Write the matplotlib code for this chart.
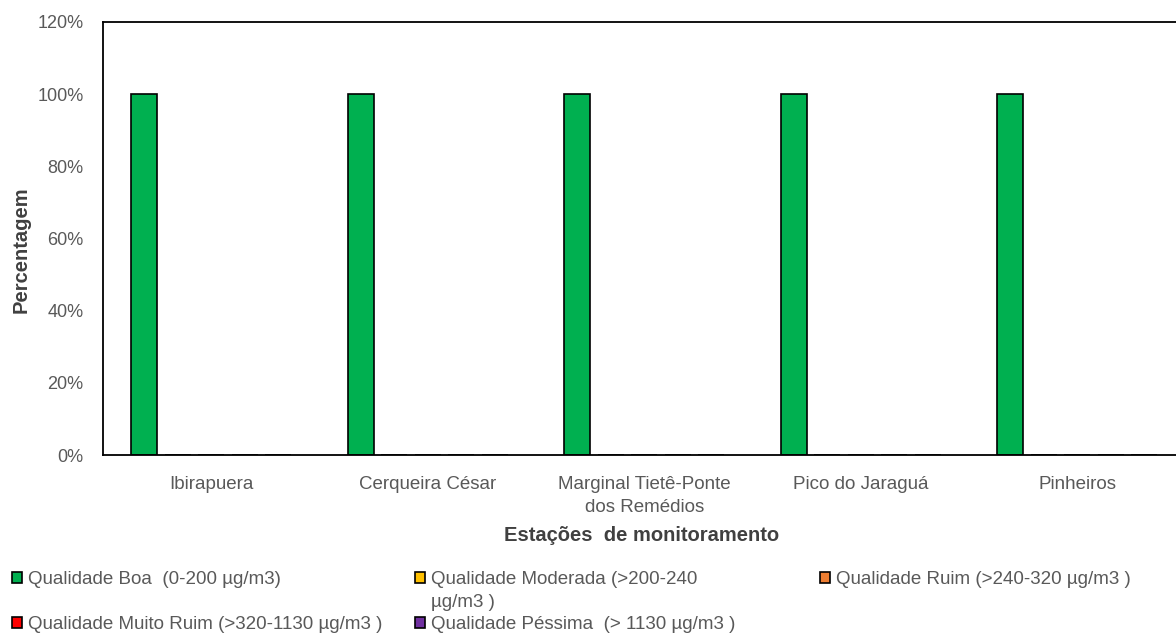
import numpy as np
import matplotlib
matplotlib.use("Agg")
import matplotlib.pyplot as plt
from matplotlib.ticker import PercentFormatter

plt.rcParams['font.family'] = ['Liberation Sans', 'DejaVu Sans']

# dados
estacoes = ["Ibirapuera", "Cerqueira César", "Marginal Tietê-Ponte\ndos Remédios",
            "Pico do Jaraguá", "Pinheiros"]

series = [
    "Qualidade Boa  (0-200 µg/m3)",
    "Qualidade Moderada (>200-240",
    "Qualidade Ruim (>240-320 µg/m3 )",
    "Qualidade Muito Ruim (>320-1130 µg/m3 )",
    "Qualidade Péssima  (> 1130 µg/m3 )",
]
boa = [1.0, 1.0, 1.0, 1.0, 1.0]
moderada = [0, 0, 0, 0, 0]
ruim = [0, 0, 0, 0, 0]
muito_ruim = [0, 0, 0, 0, 0]
pessima = [0, 0, 0, 0, 0]

cores = ["#00B050", "#FFC000", "#ED7D31", "#FF0000", "#7030A0"]

valores = [boa, moderada, ruim, muito_ruim, pessima]

W, H = 1176, 635
fig = plt.figure(figsize=(W / 100, H / 100), dpi=100)

# eixo (a direita passa um pouco da figura, como no original)
ax = fig.add_axes([103 / W, 1 - 455 / H, 1082.5 / W, 433 / H])

x = np.arange(len(estacoes))
passo = 0.155
largura = 0.12

barras = []
for i, (v, c) in enumerate(zip(valores, cores)):
    b = ax.bar(x + (i - 2) * passo, v, largura, color=c,
               edgecolor="black", linewidth=1.2, label=series[i])
    barras.append(b)

ax.set_xlim(-0.5, len(estacoes) - 0.5)
ax.set_ylim(0, 1.2)
ax.set_yticks(np.arange(0, 1.21, 0.2))
ax.yaxis.set_major_formatter(PercentFormatter(xmax=1, decimals=0))
ax.set_xticks(x)
ax.set_xticklabels(estacoes, linespacing=1.45)

ax.tick_params(axis="both", length=0, labelcolor="#595959")
ax.tick_params(axis="y", pad=14, labelsize=13)
ax.tick_params(axis="x", pad=15, labelsize=13.5)

for s in ax.spines.values():
    s.set_linewidth(1.3)
    s.set_color("black")

ax.set_ylabel("Percentagem", fontsize=14.5, fontweight="bold", color="#404040")
ax.set_xlabel("Estações  de monitoramento", fontsize=14.5, fontweight="bold", color="#404040")
ax.yaxis.set_label_coords(-0.0665, 0.475)
ax.xaxis.set_label_coords(0.4975, -0.164)

#
# legenda em 3 colunas
#
opts = dict(frameon=False, fontsize=13.5, labelcolor="#595959", handlelength=0.55,
            handleheight=0.55, handletextpad=0.3, borderpad=0, borderaxespad=0,
            labelspacing=1.51, loc="upper left")

fig.legend([barras[0], barras[3]], [series[0], series[3]],
           bbox_to_anchor=(12 / W, 1 - 571 / H), **opts)
leg2 = fig.legend([barras[1], barras[4]], [series[1], series[4]],
                  bbox_to_anchor=(415 / W, 1 - 571 / H), **opts)
fig.legend([barras[2]], [series[2]],
           bbox_to_anchor=(820 / W, 1 - 571 / H), **opts)

# segunda linha do rotulo "Moderada"
fig.canvas.draw()
bb = leg2.get_texts()[0].get_window_extent()
fig.text(bb.x0 / W, (bb.y0 - 23) / H, "µg/m3 )", fontsize=13.5, color="#595959",
         ha="left", va="bottom")

fig.savefig("out.png", dpi=100)
